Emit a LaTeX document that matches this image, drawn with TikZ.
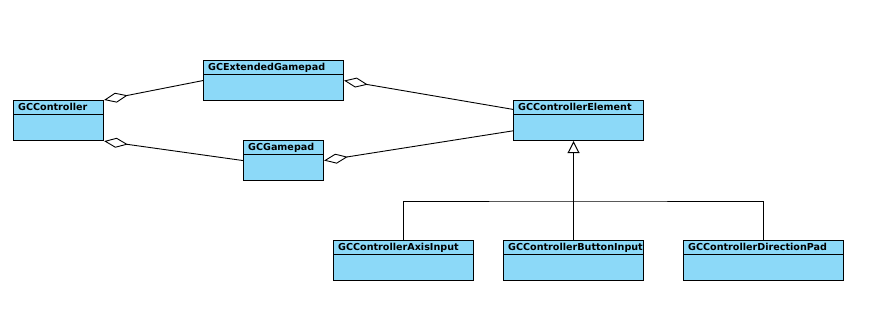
\documentclass[tikz,border=0pt]{standalone}
\usepackage{fontspec}
\usepackage{tikz}
\usetikzlibrary{arrows.meta}
\newfontfamily\umlfont{DejaVu Sans}
\definecolor{classfill}{HTML}{8CD9F8}
\definecolor{trait}{HTML}{000000}

\tikzset{
  classbox/.style={draw=trait, line width=1.1pt, fill=classfill, rectangle,
    minimum height=40pt, inner sep=0pt, anchor=north west},
  classname/.style={font=\umlfont\bfseries\fontsize{9.6}{12}\selectfont,
    inner sep=0pt, anchor=base west},
  aggr/.style={draw=trait, line width=0.9pt,
    {Diamond[open, length=24pt, width=10pt, line width=0.9pt]}-},
  gen/.style={draw=trait, line width=1pt,
    -{Triangle[open, length=12pt, width=12pt, line width=1pt]}}
}

\begin{document}
\begin{tikzpicture}[x=1pt, y=-1pt]
    \useasboundingbox (0,0) rectangle (874,335);
    % classes
    \foreach \nm/\x/\y/\w/\txt in {ctrl/13/100/90/GCController,
        ext/203/60/140/GCExtendedGamepad, gp/243/140/80/GCGamepad,
        elem/513/100/130/GCControllerElement,
        axis/333/240/140/GCControllerAxisInput,
        btn/503/240/140/GCControllerButtonInput,
        dpad/683/240/160/GCControllerDirectionPad} {
      \node[classbox, minimum width=\w pt] (\nm) at (\x,\y) {};
      \node[classname] (\nm-name) at ([xshift=5pt, yshift=-10.5pt]\nm.north west) {\txt};
      \draw[trait, line width=0.9pt] ([yshift=-14pt]\nm.north west) -- ([yshift=-14pt]\nm.north east);
    }
    % aggregations
    \draw[aggr] (ctrl.north east) -- (ext.west);
    \draw[aggr] (ctrl.south east) -- (gp.west);
    \draw[aggr] (ext.east) -- (elem);
    \draw[aggr] (gp.east) -- (elem);
    % generalisation
    \coordinate (bus) at (573,201);
    \draw[gen] (btn.north) -- (btn.north |- elem.south);
    \draw[trait, line width=1pt] (axis.north) |- (bus) -| (dpad.north);
  \end{tikzpicture}
\end{document}
